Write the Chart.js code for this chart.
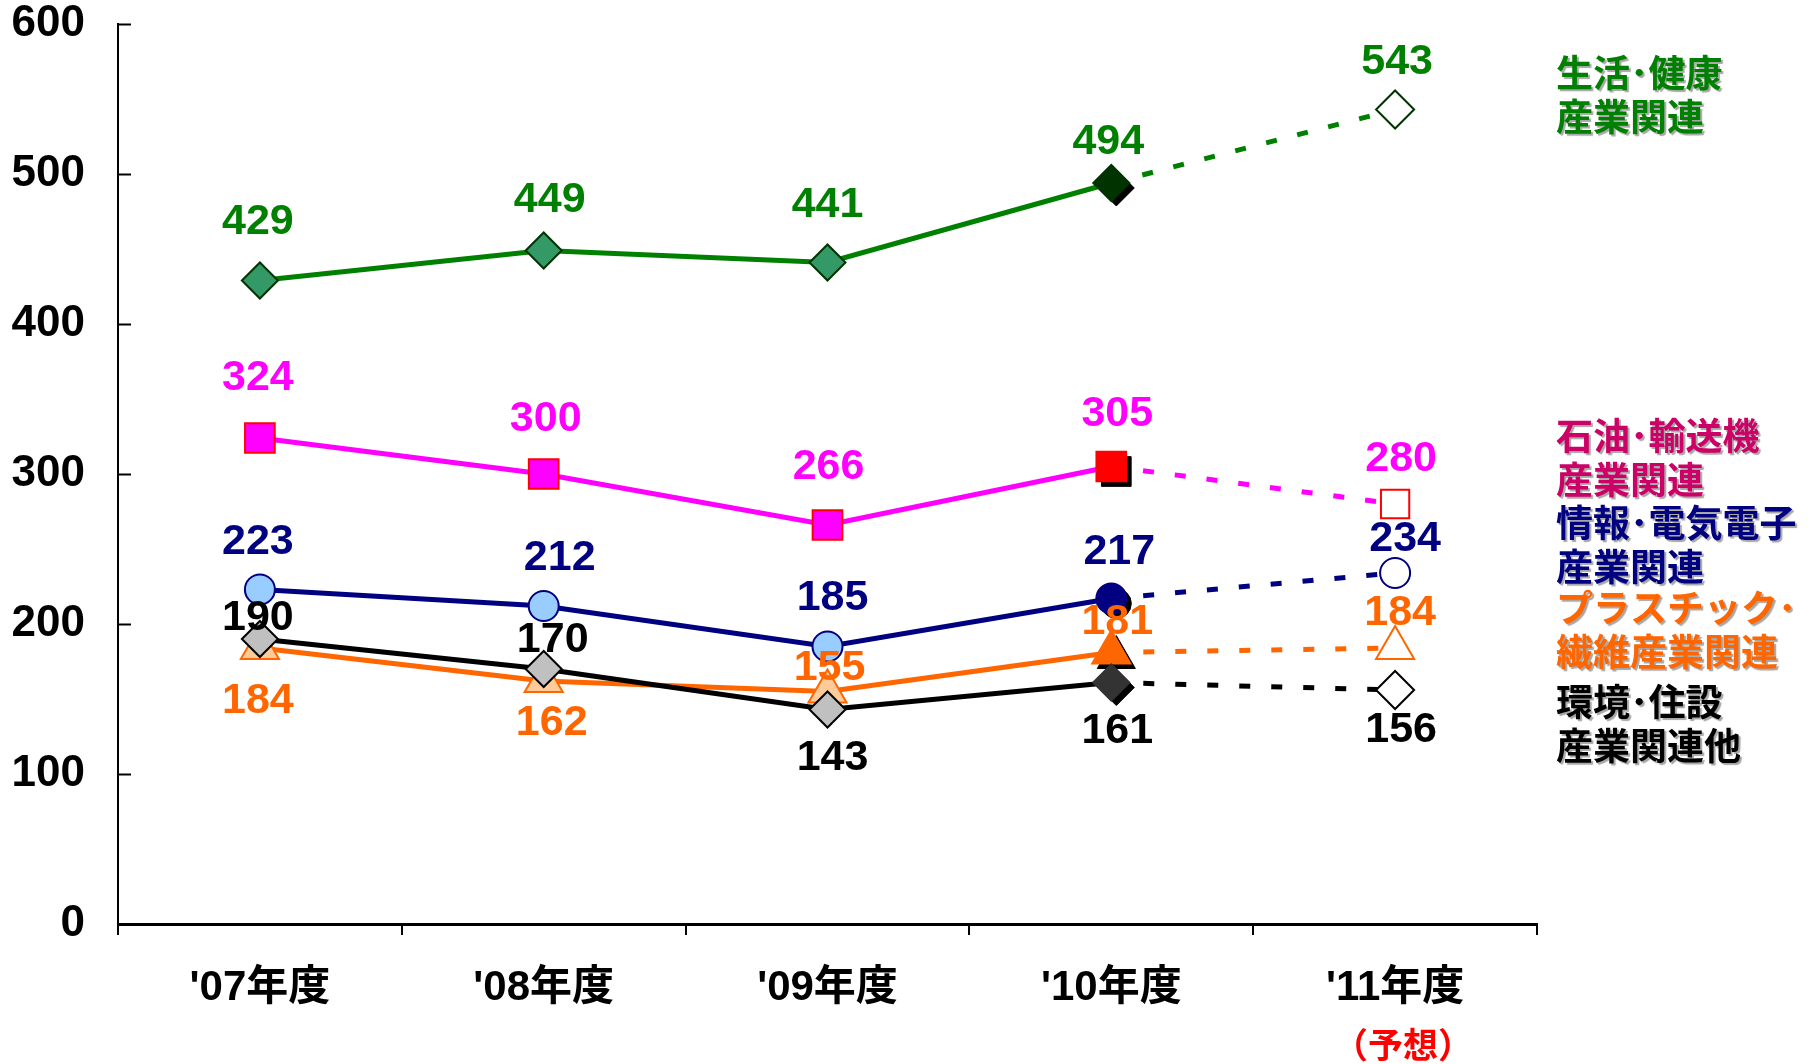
<!DOCTYPE html>
<html>
<head>
<meta charset="utf-8">
<script src="https://cdn.jsdelivr.net/npm/chart.js@4.4.0/dist/chart.umd.min.js"></script>
<style>
  html, body { margin: 0; padding: 0; background: #fff; }
  #wrap { width: 1810px; height: 1064px; }
</style>
</head>
<body>
<div id="wrap"><canvas id="chart" width="1810" height="1064"></canvas></div>
<script>
// data
const years = ["'07年度", "'08年度", "'09年度", "'10年度", "'11年度"];
const lifeHealth = [429, 449, 441, 494, 543];
const petroTransport = [324, 300, 266, 305, 280];
const infoElectric = [223, 212, 185, 217, 234];
const envHousing = [190, 170, 143, 161, 156];
const plasticFiber = [184, 162, 155, 181, 184];
const yTicks = [0, 100, 200, 300, 400, 500, 600];
const forecastNote = '（予想）';

const NUM_FONT = '"Liberation Sans", Arial, sans-serif';
const JP_FONT = '"Liberation Sans", "Noto Sans CJK JP", sans-serif';

// series look + label placement (dx, dy from the point)
const series = [
  { data: lifeHealth, line: '#008000', text: '#008000', legend: ['生活･健康', '産業関連'], legendY: 73,
    style: 'rectRot', radius: [18, 18, 18, 18, 19], fill: '#339966', edge: '#003300', actual: '#003300', last: '#003300',
    offsets: [[-2, -58], [6, -50], [0, -57], [-3, -41], [2, -47]] },
  { data: petroTransport, line: '#FF00FF', text: '#FF00FF', legendColor: '#CC0066', legend: ['石油･輸送機', '産業関連'], legendY: 436,
    style: 'rect', radius: [21, 21, 21, 21, 20], fill: '#FF00FF', edge: '#FF0000', actual: '#FF0000', last: '#FF0000',
    offsets: [[-2, -60], [2, -55], [1, -58], [6, -52], [6, -45]] },
  { data: infoElectric, line: '#000080', text: '#000080', legend: ['情報･電気電子', '産業関連'], legendY: 523,
    style: 'circle', radius: [15, 15, 15, 15, 15], fill: '#99CCFF', edge: '#000080', actual: '#000080', last: '#000080',
    offsets: [[-2, -47], [16, -48], [5, -48], [8, -46], [10, -34]] },
  { data: envHousing, line: '#000000', text: '#000000', legend: ['環境･住設', '産業関連他'], legendY: 702,
    style: 'rectRot', radius: [18, 18, 18, 18, 19], fill: '#C0C0C0', edge: '#000000', actual: '#333333', last: '#000000',
    offsets: [[-2, -21], [9, -29], [5, 49], [6, 49], [6, 40]] },
  { data: plasticFiber, line: '#FF6600', text: '#FF6600', legend: ['プラスチック･', '繊維産業関連'], legendY: 608,
    style: 'triangle', radius: [22, 22, 22, 22, 22], fill: '#FFCC99', edge: '#FF6600', actual: '#FF6600', last: '#FF6600',
    offsets: [[-2, 53], [8, 42], [2, -23], [6, -30], [5, -35]] }
];

const datasets = series.map(s => ({
  data: s.data,
  borderColor: s.line,
  borderWidth: 5,
  tension: 0,
  clip: false,
  pointStyle: s.style,
  pointRadius: s.radius,
  pointBackgroundColor: [s.fill, s.fill, s.fill, s.actual, '#FFFFFF'],
  pointBorderColor: [s.edge, s.edge, s.edge, s.actual, s.last],
  pointBorderWidth: 2,
  segment: {
    borderDash: ctx => ctx.p0DataIndex === 3 ? [11, 21] : undefined
  }
}));

// black drop shadow under the '10 markers
const markerShadow = {
  id: 'markerShadow',
  beforeDatasetsDraw(chart) {
    const ctx = chart.ctx;
    series.forEach((s, i) => {
      const pt = chart.getDatasetMeta(i).data[3];
      ctx.save();
      ctx.fillStyle = '#000';
      ctx.strokeStyle = '#000';
      Chart.helpers.drawPoint(ctx, { pointStyle: s.style, radius: s.radius[3], rotation: 0, borderWidth: 2 }, pt.x + 5, pt.y + 5);
      ctx.restore();
    });
  }
};

const valueLabels = {
  id: 'valueLabels',
  afterDatasetsDraw(chart) {
    const ctx = chart.ctx;
    ctx.save();
    ctx.font = 'bold 43px ' + NUM_FONT;
    ctx.textAlign = 'center';
    ctx.textBaseline = 'middle';
    series.forEach((s, i) => {
      const meta = chart.getDatasetMeta(i);
      s.data.forEach((v, j) => {
        const p = meta.data[j];
        ctx.fillStyle = s.text;
        ctx.fillText(String(v), p.x + s.offsets[j][0], p.y + s.offsets[j][1]);
      });
    });
    ctx.restore();
  }
};

const extras = {
  id: 'extras',
  afterDraw(chart) {
    const ctx = chart.ctx;
    const area = chart.chartArea;
    const y = chart.scales.y;
    const x = chart.scales.x;

    // y tick marks pointing into the plot
    ctx.save();
    ctx.strokeStyle = '#000';
    ctx.lineWidth = 2;
    yTicks.forEach(v => {
      const py = Math.round(y.getPixelForValue(v)) + 0.5;
      ctx.beginPath();
      ctx.moveTo(area.left, py);
      ctx.lineTo(area.left + 13, py);
      ctx.stroke();
    });
    ctx.restore();

    // series names on the right
    ctx.save();
    ctx.font = 'bold 37px "Noto Sans CJK JP", sans-serif';
    ctx.textAlign = 'left';
    ctx.textBaseline = 'middle';
    ctx.shadowColor = 'rgba(0,0,0,0.35)';
    ctx.shadowOffsetX = 2;
    ctx.shadowOffsetY = 2;
    ctx.shadowBlur = 1;
    series.forEach(s => {
      ctx.fillStyle = s.legendColor || s.text;
      s.legend.forEach((t, k) => ctx.fillText(t, area.right + 19, s.legendY + k * 44));
    });
    ctx.restore();

    // forecast note under the last year
    ctx.save();
    ctx.font = 'bold 35px "Noto Sans CJK JP", sans-serif';
    ctx.textAlign = 'center';
    ctx.textBaseline = 'middle';
    ctx.fillStyle = '#FF0000';
    ctx.fillText(forecastNote, x.getPixelForValue(4) + 8, 1045);
    ctx.restore();
  }
};

new Chart(document.getElementById('chart'), {
  type: 'line',
  data: { labels: years, datasets },
  options: {
    responsive: false,
    animation: false,
    devicePixelRatio: 1,
    layout: { padding: { top: 21, right: 273, left: 0, bottom: 0 } },
    plugins: {
      legend: { display: false },
      tooltip: { enabled: false }
    },
    scales: {
      x: {
        offset: true,
        grid: {
          display: true,
          offset: true,
          drawOnChartArea: false,
          drawTicks: true,
          tickLength: 11,
          color: '#000',
          lineWidth: 2
        },
        border: { display: true, color: '#000', width: 3 },
        ticks: {
          color: '#000',
          padding: 28,
          maxRotation: 0,
          font: { family: JP_FONT, size: 42, weight: 'bold' }
        },
        afterFit: s => { s.height = 140; }
      },
      y: {
        min: 0,
        max: 600,
        afterBuildTicks: s => { s.ticks = yTicks.map(v => ({ value: v })); },
        grid: {
          display: true,
          drawOnChartArea: false,
          drawTicks: true,
          tickLength: 33,
          color: 'rgba(0,0,0,0)'
        },
        border: { display: true, color: '#000', width: 2 },
        ticks: {
          color: '#000',
          padding: 0,
          font: { family: NUM_FONT, size: 44, weight: 'bold', lineHeight: 0.8 }
        },
        afterFit: s => { s.width = 118; }
      }
    }
  },
  plugins: [markerShadow, valueLabels, extras]
});
</script>
</body>
</html>
